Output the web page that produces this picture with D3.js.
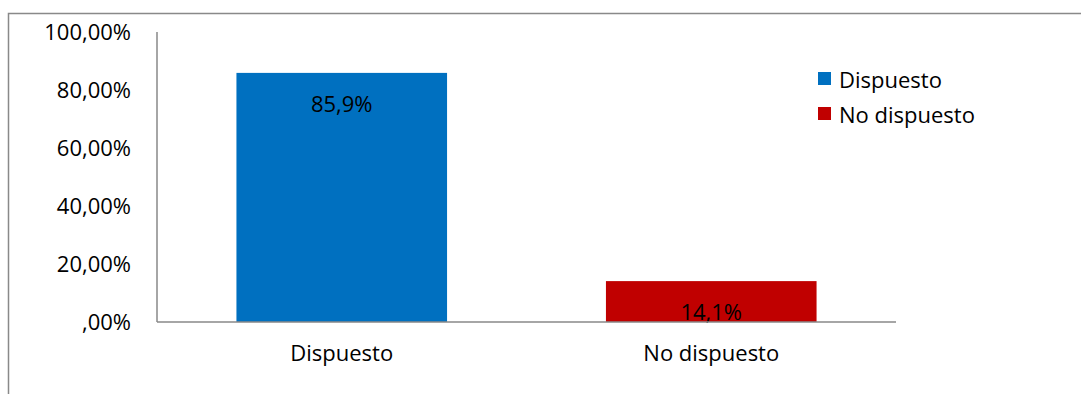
<!DOCTYPE html>
<html>
<head>
<meta charset="utf-8">
<script src="https://cdn.jsdelivr.net/npm/d3@7"></script>
<style>
  html, body { margin: 0; padding: 0; background: #fff; }
  svg { display: block; font-family: "Open Sans", "Noto Sans", sans-serif; }
</style>
</head>
<body>
<svg id="chart" width="1081" height="394"></svg>
<script>
// Willingness survey: share of respondents per answer
const categories = ["Dispuesto", "No dispuesto"];
const values = [85.9, 14.1];
const valueLabels = ["85,9%", "14,1%"];
const colors = ["#0070C0", "#C00000"];
const yTicks = [0, 20, 40, 60, 80, 100];
const yTickLabels = [",00%", "20,00%", "40,00%", "60,00%", "80,00%", "100,00%"];

const svg = d3.select("#chart");
const W = 1081, H = 394;
const plot = { left: 157, right: 896, top: 32, bottom: 322 };
const fontSize = 22;

// Outer chart frame (only top and left edges are visible in the window)
svg.append("rect")
  .attr("x", 8.5).attr("y", 13.5)
  .attr("width", W + 20).attr("height", H + 20)
  .attr("fill", "none").attr("stroke", "#898989").attr("stroke-width", 1.5);

const x = d3.scaleBand().domain(categories)
  .range([plot.left, plot.right]).paddingInner(0.43).paddingOuter(0.215);
const y = d3.scaleLinear().domain([0, 100]).range([plot.bottom, plot.top]);

// Y axis labels
const yAxis = d3.axisLeft(y).tickValues(yTicks)
  .tickFormat((d, i) => yTickLabels[i]).tickSize(0).tickPadding(26);
const gy = svg.append("g").attr("transform", `translate(${plot.left},0)`).call(yAxis);
gy.select(".domain").remove();
gy.selectAll("text").attr("font-size", fontSize).attr("fill", "#000")
  .attr("font-family", "'Open Sans', sans-serif");

// Bars
svg.append("g").selectAll("rect").data(categories).join("rect")
  .attr("x", d => x(d)).attr("width", x.bandwidth())
  .attr("y", (d, i) => y(values[i]))
  .attr("height", (d, i) => y(0) - y(values[i]))
  .attr("fill", (d, i) => colors[i]);

// Value labels inside the bars
svg.append("g").selectAll("text").data(categories).join("text")
  .attr("x", d => x(d) + x.bandwidth() / 2)
  .attr("y", (d, i) => y(values[i]) + 30)
  .attr("text-anchor", "middle").attr("dominant-baseline", "central")
  .attr("font-size", fontSize).attr("fill", "#000")
  .text((d, i) => valueLabels[i]);

// Axis lines
svg.append("line")
  .attr("x1", plot.left).attr("x2", plot.left)
  .attr("y1", plot.top).attr("y2", plot.bottom)
  .attr("stroke", "#898989").attr("stroke-width", 1.5);
svg.append("line")
  .attr("x1", plot.left).attr("x2", plot.right)
  .attr("y1", plot.bottom).attr("y2", plot.bottom)
  .attr("stroke", "#898989").attr("stroke-width", 1.5);

// Category labels
const xAxis = d3.axisBottom(x).tickSize(0).tickPadding(23);
const gx = svg.append("g").attr("transform", `translate(0,${plot.bottom})`).call(xAxis);
gx.select(".domain").remove();
gx.selectAll("text").attr("font-size", fontSize).attr("fill", "#000")
  .attr("font-family", "'Open Sans', sans-serif");

// Legend
const legend = svg.append("g").attr("transform", "translate(818,72)");
const items = legend.selectAll("g").data(categories).join("g")
  .attr("transform", (d, i) => `translate(0,${i * 35})`);
items.append("rect").attr("width", 13).attr("height", 13)
  .attr("fill", (d, i) => colors[i]);
items.append("text").attr("x", 21).attr("y", 6.5)
  .attr("dominant-baseline", "central")
  .attr("font-size", fontSize).attr("fill", "#000")
  .text(d => d);
</script>
</body>
</html>
